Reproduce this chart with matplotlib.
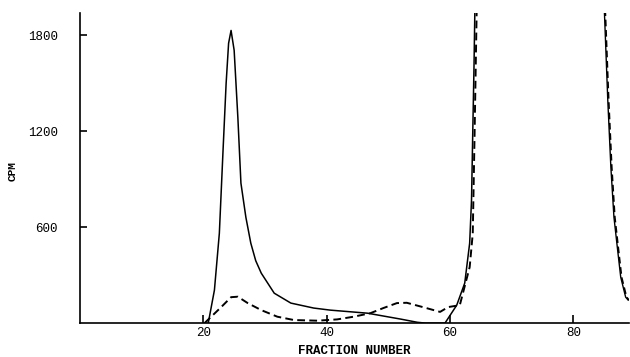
import matplotlib
matplotlib.use("Agg")
import matplotlib.pyplot as plt

# solid trace: first peak, tail, then rise of the big peak near fraction 64
solid_fraction = [20.8, 21.8, 22.6, 23.2, 23.7, 24.1, 24.5, 25.0, 25.6, 26.1, 26.9, 27.7,
                  28.5, 29.4, 31.5, 34.2, 37.9, 40.6, 46.6, 52.0, 54.7, 56.0, 59.2, 61.1, 62.4,
                  63.2, 63.5, 63.7, 63.9, 64.1]
solid_cpm = [0, 206, 562, 1081, 1500, 1750, 1830, 1706, 1287, 875, 662, 500,
             390, 312, 187, 125, 94, 81, 62, 25, 5, 0, 0, 112, 250,
             500, 770, 1190, 1600, 2100]

# dashed trace
dashed_fraction = [20.2, 22.9, 24.5, 25.6, 27.2, 29.4, 32.0, 34.7, 38.5, 41.7, 44.4, 47.1,
                   49.2, 51.4, 53.0, 55.6, 58.4, 59.7, 61.6, 63.2, 63.7, 64.0, 64.4]
dashed_cpm = [0, 100, 162, 165, 125, 81, 40, 19, 15, 23, 40, 62,
              94, 125, 127, 100, 70, 100, 112, 350, 560, 1190, 2100]

# falling edge of the peak at the right margin (both traces overlap)
right_fraction = [84.9, 85.6, 86.1, 86.6, 87.2, 87.7, 88.5, 88.9]
right_cpm = [2100, 1394, 975, 662, 456, 287, 162, 144]

y_ticks = [600, 1200, 1800]
x_ticks = [20, 40, 60, 80]

plt.rcParams["font.family"] = ["Liberation Mono", "DejaVu Sans Mono"]

fig = plt.figure(figsize=(6.3, 3.57), dpi=100)
ax = fig.add_axes([0.127, 0.095, 0.871, 0.869])

ax.plot(solid_fraction, solid_cpm, color="black", lw=1.1)
ax.plot(dashed_fraction, dashed_cpm, color="black", lw=1.4, ls=(0, (4, 2.2)))
ax.plot(right_fraction, right_cpm, color="black", lw=1.0)
ax.plot([f + 0.15 for f in right_fraction], right_cpm, color="black", lw=1.2, ls=(0, (4, 2.2)))

ax.set_xlim(0, 89)
ax.set_ylim(0, 1940)
ax.spines["top"].set_visible(False)
ax.spines["right"].set_visible(False)
for s in ("left", "bottom"):
    ax.spines[s].set_linewidth(1.2)

ax.set_yticks(y_ticks)
ax.set_xticks(x_ticks)
ax.tick_params(axis="y", direction="in", length=5, width=1.2, pad=16, labelsize=9)
ax.tick_params(axis="x", direction="in", length=6, width=1.2, pad=3, labelsize=9)

ax.set_xlabel("FRACTION NUMBER", fontsize=9, fontweight="bold", labelpad=4)
ax.set_ylabel("CPM", fontsize=8, fontweight="bold")
ax.yaxis.set_label_coords(-0.113, 0.49)

fig.savefig("out.png", dpi=100)
